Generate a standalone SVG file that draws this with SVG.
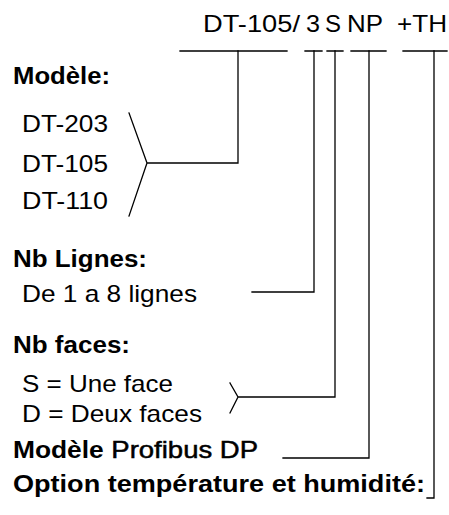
<svg xmlns="http://www.w3.org/2000/svg" width="449" height="515" viewBox="0 0 449 515">
<style>
text{font-family:"Liberation Sans",Arial,sans-serif;font-size:24px;fill:#000}
.b{font-weight:bold;font-size:23px}
.ln{stroke:#000;stroke-width:1.3;fill:none;stroke-linecap:square}
</style>
<rect width="449" height="515" fill="#fff"/>
<g id="title">
<text x="203" y="32" textLength="97" lengthAdjust="spacingAndGlyphs">DT-105/</text>
<text x="306" y="32" textLength="14" lengthAdjust="spacingAndGlyphs">3</text>
<text x="325" y="32" textLength="16" lengthAdjust="spacingAndGlyphs">S</text>
<text x="347" y="32" textLength="36" lengthAdjust="spacingAndGlyphs">NP</text>
<text x="397" y="32" textLength="50" lengthAdjust="spacingAndGlyphs">+TH</text>
</g>
<g id="modele">
<text class="b" x="13" y="84" textLength="97" lengthAdjust="spacingAndGlyphs">Modèle:</text>
<text x="22" y="132" textLength="86" lengthAdjust="spacingAndGlyphs">DT-203</text>
<text x="22" y="172" textLength="86" lengthAdjust="spacingAndGlyphs">DT-105</text>
<text x="22" y="209" textLength="86" lengthAdjust="spacingAndGlyphs">DT-110</text>
</g>
<g id="lignes">
<text class="b" x="13" y="267" textLength="134" lengthAdjust="spacingAndGlyphs">Nb Lignes:</text>
<text x="22" y="302" textLength="175" lengthAdjust="spacingAndGlyphs">De 1 a 8 lignes</text>
</g>
<g id="faces">
<text class="b" x="13" y="353" textLength="117" lengthAdjust="spacingAndGlyphs">Nb faces:</text>
<text x="22" y="392" textLength="151" lengthAdjust="spacingAndGlyphs">S = Une face</text>
<text x="22" y="422" textLength="180" lengthAdjust="spacingAndGlyphs">D = Deux faces</text>
</g>
<g id="profibus">
<text x="13" y="458" textLength="245" lengthAdjust="spacingAndGlyphs"><tspan class="b">Modèle</tspan> <tspan style="stroke:#000;stroke-width:0.5">Profibus DP</tspan></text>
</g>
<g id="option">
<text class="b" x="13" y="492" textLength="412" lengthAdjust="spacingAndGlyphs">Option température et humidité:</text>
</g>
<g id="connectors">
<path class="ln" d="M180,51H287M305,51H322M327,51H343M351,51H386M403,51H447"/>
<path class="ln" d="M238,51V163H147M129,113L147,163L129,216"/>
<path class="ln" d="M314,51V292H252"/>
<path class="ln" d="M335,51V397H238M230,383L238,397L230,413"/>
<path class="ln" d="M369,51V458H283"/>
<path class="ln" d="M434,51V498H427"/>
</g>
</svg>
